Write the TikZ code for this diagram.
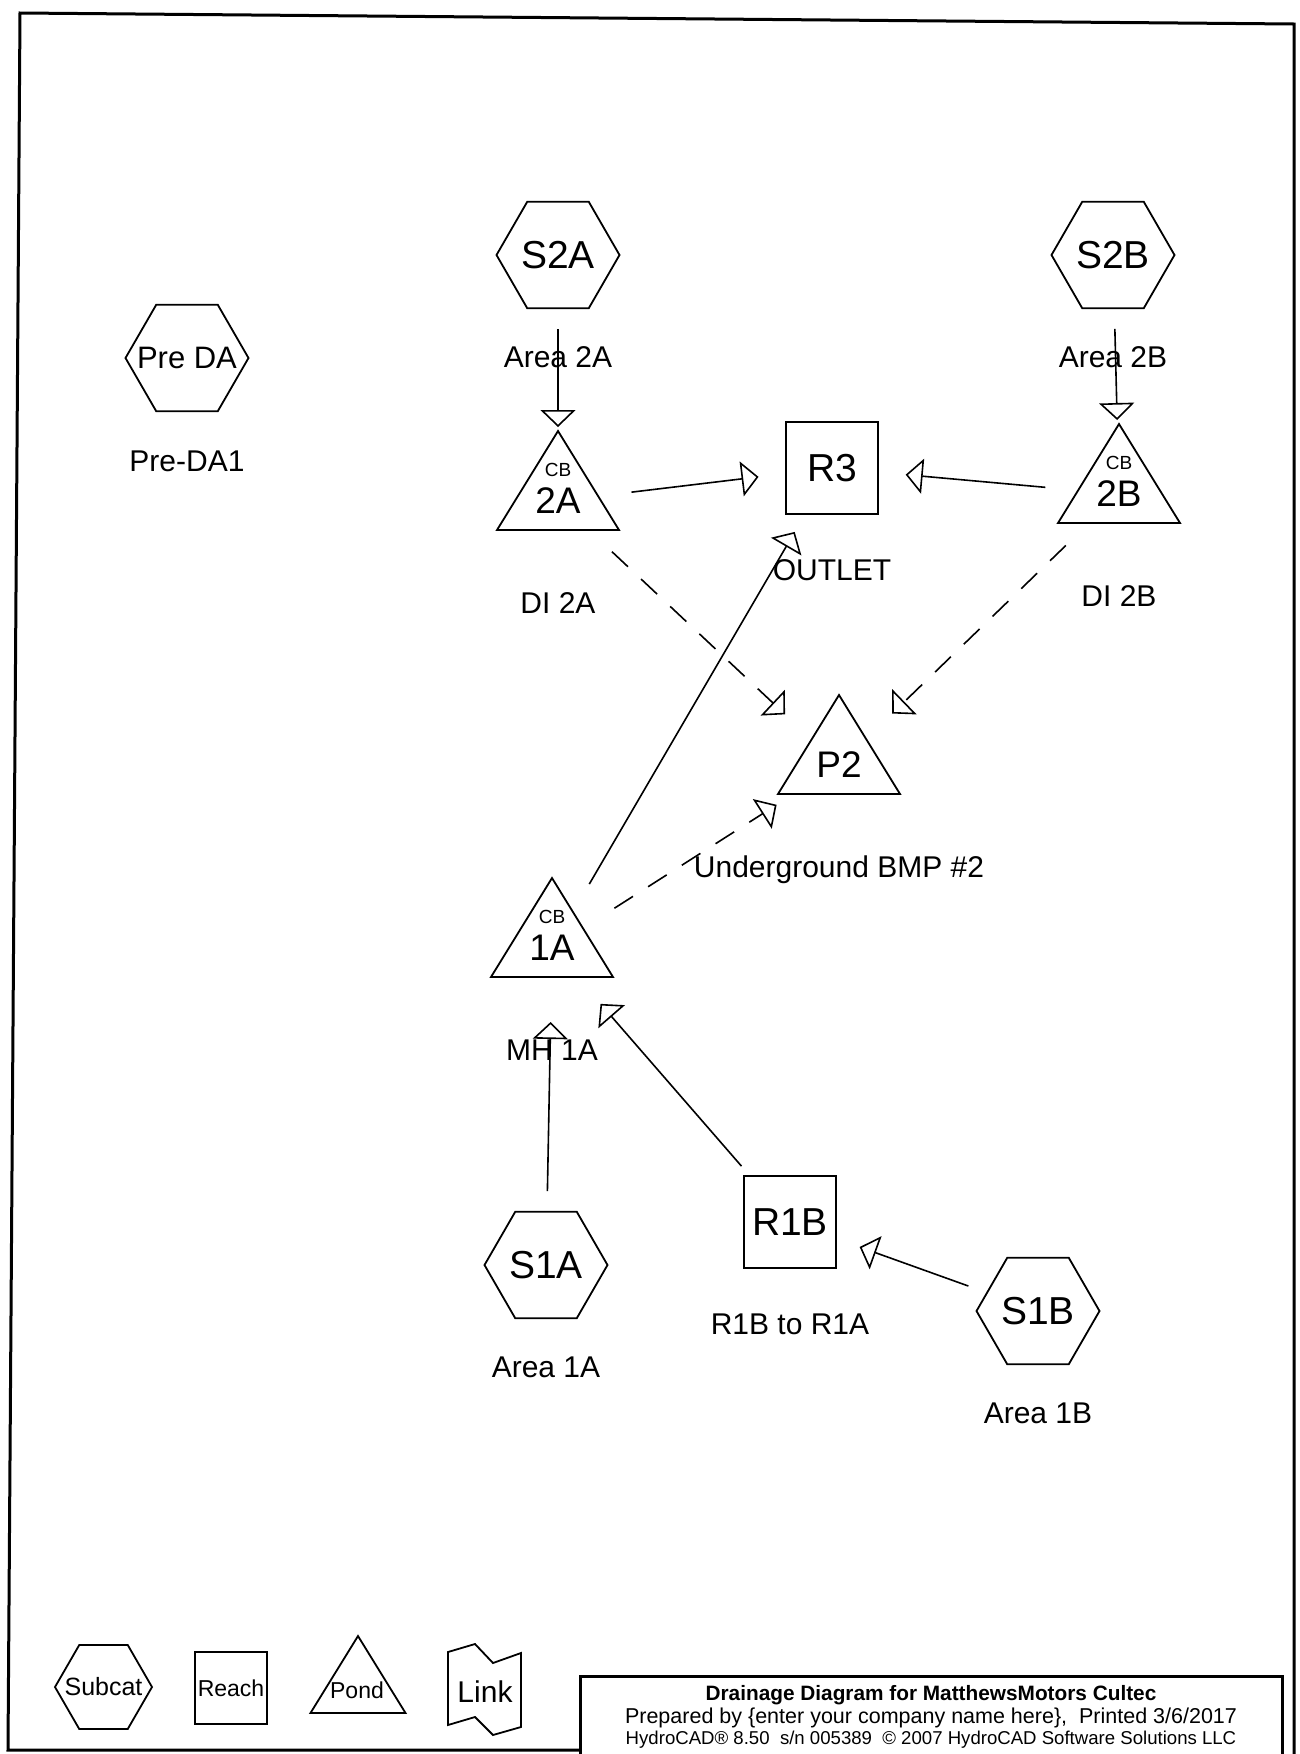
\documentclass[tikz,border=0pt]{standalone}
\usepackage{fontspec}
\setmainfont{Liberation Sans}
\usetikzlibrary{arrows.meta,shapes.geometric}

\tikzset{
  subcat/.style={draw, line width=1.8pt, regular polygon, regular polygon sides=6,
    minimum size=123pt, inner sep=0pt, font=\fontsize{39}{40}\selectfont},
  reach/.style={draw, line width=1.8pt, rectangle, minimum size=92pt,
    inner sep=0pt, font=\fontsize{39}{40}\selectfont},
  pondid/.style={inner sep=0pt, font=\fontsize{37}{38}\selectfont},
  cbtag/.style={inner sep=0pt, font=\fontsize{19}{20}\selectfont},
  caption/.style={inner sep=0pt, text depth=0pt, font=\fontsize{30}{31}\selectfont},
  outline/.style={line width=1.8pt, line join=miter},
  flow/.style={line width=1.6pt, shorten <=74pt, shorten >=74pt,
    -{Triangle[open,length=17pt,width=35pt]}},
  seep/.style={flow, dash pattern=on 22pt off 18pt},
  titletext/.style={inner sep=0pt, text depth=0pt},
}

\begin{document}
\begin{tikzpicture}[x=1pt,y=-1pt]
	\useasboundingbox (0,0) rectangle (1299,1754);
	
	% page frame and title block
	\draw[line width=3pt] (580,1750) -- (8,1750) -- (20,13) -- (1294,24) -- (1294,1754);
	\draw[line width=3pt] (580,1754) -- (580,1676) -- (1282,1676) -- (1282,1754);
	\node[titletext, font=\bfseries\fontsize{20.8}{21}\selectfont] (title) at (931,1693)
		{Drainage Diagram for MatthewsMotors Cultec};
	\node[titletext, font=\fontsize{21.5}{22}\selectfont] (prepared) at (931,1716)
		{Prepared by \{enter your company name here\},\ \ Printed 3/6/2017};
	\node[titletext, font=\fontsize{18.6}{19}\selectfont] (software) at (931,1738)
		{HydroCAD® 8.50\ \ s/n 005389\ \ © 2007 HydroCAD Software Solutions LLC};
	
	% subcatchments and reaches
	\node[subcat, font=\fontsize{31}{32}\selectfont] (predA) at (187,358) {\makebox[0pt]{Pre DA}};
	\node[subcat] (s2a) at (558,255) {S2A};
	\node[subcat] (s2b) at (1113,255) {S2B};
	\node[reach] (r3) at (832,468) {R3};
	\node[subcat] (s1a) at (546,1265) {S1A};
	\node[reach] (r1b) at (790,1222) {R1B};
	\node[subcat] (s1b) at (1038,1311) {S1B};
	
	% ponds
	\node[pondid] (p2a) at (558,501) {2A};
	\node[pondid] (p2b) at (1119,494) {2B};
	\node[pondid] (p2) at (839,765) {P2};
	\node[pondid] (p1a) at (552,948) {1A};
	\node[cbtag] (p2a-cb) at ([yshift=31pt]p2a) {CB};
	\node[cbtag] (p2b-cb) at ([yshift=31pt]p2b) {CB};
	\node[cbtag] (p1a-cb) at ([yshift=31pt]p1a) {CB};
	\draw[outline] (p2a.center) ++(0,-70) -- ++(61,99) -- ++(-122,0) -- cycle;
	\draw[outline] (p2b.center) ++(0,-70) -- ++(61,99) -- ++(-122,0) -- cycle;
	\draw[outline] (p2.center) ++(0,-70) -- ++(61,99) -- ++(-122,0) -- cycle;
	\draw[outline] (p1a.center) ++(0,-70) -- ++(61,99) -- ++(-122,0) -- cycle;
	
	% captions
	\node[caption] (predA-cap) at ([yshift=-103pt]predA) {Pre-DA1};
	\node[caption] (s2a-cap) at ([yshift=-102pt]s2a) {Area 2A};
	\node[caption] (s2b-cap) at ([yshift=-102pt]s2b) {Area 2B};
	\node[caption] (p2a-cap) at ([yshift=-102pt]p2a) {DI 2A};
	\node[caption] (p2b-cap) at ([yshift=-102pt]p2b) {DI 2B};
	\node[caption] (r3-cap) at ([yshift=-102pt]r3) {OUTLET};
	\node[caption] (p2-cap) at ([yshift=-102pt]p2) {Underground BMP \#2};
	\node[caption] (p1a-cap) at ([yshift=-102pt]p1a) {MH 1A};
	\node[caption] (s1a-cap) at ([yshift=-102pt]s1a) {Area 1A};
	\node[caption] (r1b-cap) at ([yshift=-102pt]r1b) {R1B to R1A};
	\node[caption] (s1b-cap) at ([yshift=-102pt]s1b) {Area 1B};
	
	% routing
	\draw[flow] (s2a.center) -- (p2a.center);
	\draw[flow] (s2b.center) -- (p2b.center);
	\draw[flow] (p2a.center) -- (r3.center);
	\draw[flow] (p2b.center) -- (r3.center);
	\draw[flow] (p1a.center) -- (r3.center);
	\draw[seep] (p2a.center) -- (p2.center);
	\draw[seep] (p2b.center) -- (p2.center);
	\draw[seep] (p1a.center) -- (p2.center);
	\draw[flow] (s1a.center) -- (p1a.center);
	\draw[flow] (r1b.center) -- (p1a.center);
	\draw[flow] (s1b.center) -- (r1b.center);
	
	% legend
	\node[subcat, minimum size=97pt, font=\fontsize{25}{26}\selectfont] (key-subcat) at (103.5,1687) {\makebox[0pt]{Subcat}};
	\node[reach, minimum size=72pt, font=\fontsize{23}{24}\selectfont] (key-reach) at (231,1688) {Reach};
	\node[inner sep=0pt, font=\fontsize{23}{24}\selectfont] (key-pond) at (357,1690) {Pond};
	\draw[outline] (key-pond.center) ++(1,-54) -- ++(47.5,77) -- ++(-95,0) -- cycle;
	\node[inner sep=0pt, font=\fontsize{30}{31}\selectfont] (key-link) at (485,1692) {Link};
	\draw[outline, shift={(key-link.center)}] (-37,-40) -- (-10,-48) -- (8,-29) -- (36,-39)
		-- (36,35) -- (8,43) -- (-10,25) -- (-37,33) -- cycle;
	
\end{tikzpicture}
\end{document}
